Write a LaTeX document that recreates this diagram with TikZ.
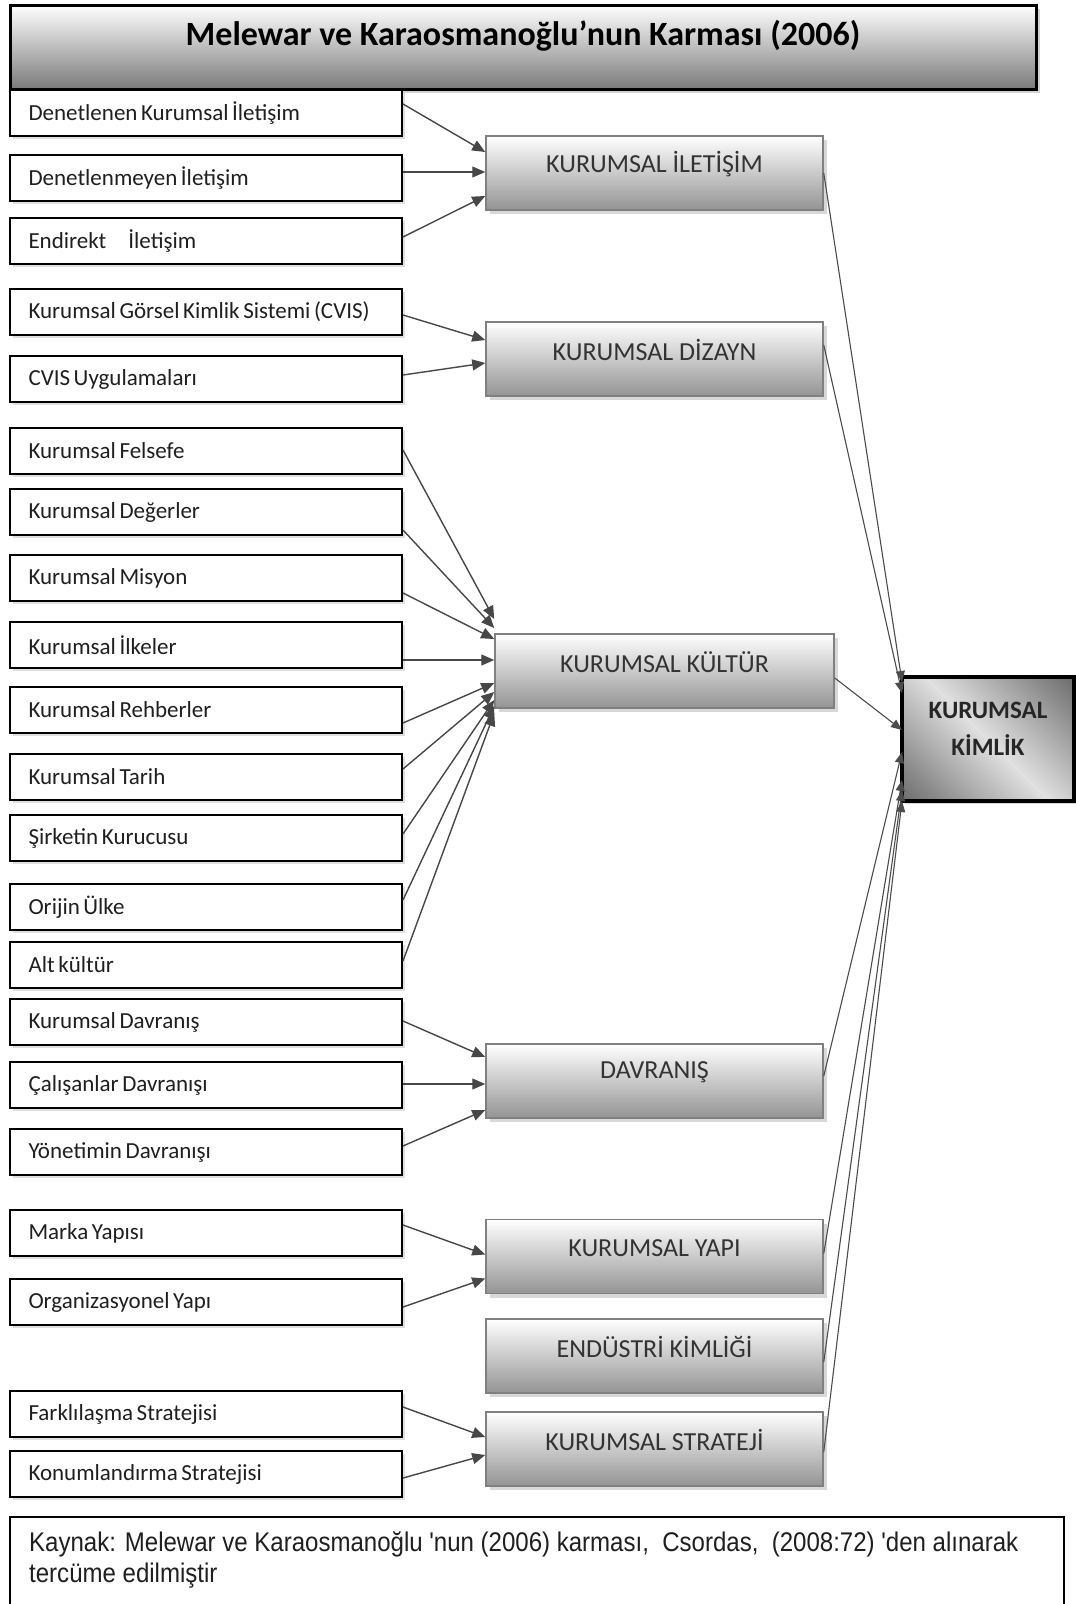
\documentclass[tikz,border=0pt]{standalone}
\usepackage{fontspec}
\setmainfont{Carlito}
\newfontfamily\notefont[FakeStretch=0.89]{Liberation Sans}
\usetikzlibrary{arrows.meta,shadows}
\newcommand\tightspaces{\spaceskip 3.6pt plus 1pt minus 0.5pt\relax}

\tikzset{
  itembox/.style={draw=black, line width=2pt, fill=white,
    minimum width=392pt, minimum height=46pt, inner xsep=18.5pt, inner ysep=0pt,
    text width=355pt, align=flush left,
    font=\fontsize{23}{26}\selectfont\tightspaces,
    text=black!88,
    drop shadow={shadow xshift=3pt, shadow yshift=-3pt, opacity=0.25}},
  groupbox/.style={draw=black!50, line width=1.5pt,
    top color=white, middle color=black!12, bottom color=black!42,
    minimum width=337pt, minimum height=74pt, inner sep=0pt,
    drop shadow={shadow xshift=4pt, shadow yshift=-4pt, opacity=0.3}},
  grouptext/.style={font=\fontsize{26}{30}\selectfont, text=black!80, inner sep=0pt},
  feedline/.style={draw=black!72, line width=1.4pt,
    -{Triangle[length=13pt, width=11pt]}},
  linkline/.style={draw=black!70, line width=1.1pt,
    -{Triangle[length=11pt, width=9pt]}},
}

\begin{document}
\begin{tikzpicture}[x=1pt, y=-1pt]
\useasboundingbox (0,0) rectangle (1076,1604);
\fill[white] (0,0) rectangle (1076,1604);

% heading
\node[draw=black, line width=3pt, minimum width=1026pt, minimum height=84pt,
  top color=white, middle color=black!18, bottom color=black!52, inner sep=0pt,
  drop shadow={shadow xshift=4pt, shadow yshift=-4pt, opacity=0.35}]
  (title) at (523,47) {};
\node[font=\bfseries\fontsize{34}{38}\selectfont, inner sep=0pt]
  (titletext) at (523,36) {Melewar ve Karaosmanoğlu’nun Karması (2006)};

% elements of the mix
\node[itembox] (a1)  at (206,113)  {Denetlenen Kurumsal İletişim};
\node[itembox] (a2)  at (206,178)  {Denetlenmeyen İletişim};
\node[itembox] (a3)  at (206,241)  {Endirekt\hspace{22pt}İletişim};
\node[itembox] (b1)  at (206,312)  {Kurumsal Görsel Kimlik Sistemi (CVIS)};
\node[itembox] (b2)  at (206,379)  {CVIS Uygulamaları};
\node[itembox] (c1)  at (206,451)  {Kurumsal Felsefe};
\node[itembox] (c2)  at (206,512)  {Kurumsal Değerler};
\node[itembox] (c3)  at (206,578)  {Kurumsal Misyon};
\node[itembox] (c4)  at (206,645)  {Kurumsal İlkeler};
\node[itembox] (c5)  at (206,710)  {Kurumsal Rehberler};
\node[itembox] (c6)  at (206,777)  {Kurumsal Tarih};
\node[itembox] (c7)  at (206,838)  {Şirketin Kurucusu};
\node[itembox] (c8)  at (206,907)  {Orijin Ülke};
\node[itembox] (c9)  at (206,965)  {Alt kültür};
\node[itembox] (d1)  at (206,1022) {Kurumsal Davranış};
\node[itembox] (d2)  at (206,1085) {Çalışanlar Davranışı};
\node[itembox] (d3)  at (206,1152) {Yönetimin Davranışı};
\node[itembox] (e1)  at (206,1233) {Marka Yapısı};
\node[itembox] (e2)  at (206,1302) {Organizasyonel Yapı};
\node[itembox] (g1)  at (206,1414) {Farklılaşma Stratejisi};
\node[itembox] (g2)  at (206,1474) {Konumlandırma Stratejisi};

% groups
\node[groupbox] (m1) at (654.5,173)  {};
\node[groupbox] (m2) at (654.5,359)  {};
\node[groupbox, minimum width=339pt] (m3) at (664.5,671) {};
\node[groupbox] (m4) at (654.5,1081) {};
\node[groupbox] (m5) at (654.5,1256.5) {};
\node[groupbox] (m6) at (654.5,1356) {};
\node[groupbox] (m7) at (654.5,1449) {};
\node[grouptext] (m1t) at ([yshift=-29pt]m1.north) {KURUMSAL İLETİŞİM};
\node[grouptext] (m2t) at ([yshift=-29pt]m2.north) {KURUMSAL DİZAYN};
\node[grouptext] (m3t) at ([yshift=-29pt]m3.north) {KURUMSAL KÜLTÜR};
\node[grouptext] (m4t) at ([yshift=-29pt]m4.north) {DAVRANIŞ};
\node[grouptext] (m5t) at ([yshift=-29pt]m5.north) {KURUMSAL YAPI};
\node[grouptext] (m6t) at ([yshift=-29pt]m6.north) {ENDÜSTRİ KİMLİĞİ};
\node[grouptext] (m7t) at ([yshift=-29pt]m7.north) {KURUMSAL STRATEJİ};

% corporate identity: box, diagonal gradient built from bands, frame, text
\node[fill=white, minimum width=172pt, minimum height=124pt, inner sep=0pt,
  outer sep=0pt, drop shadow={shadow xshift=3pt, shadow yshift=-3pt, opacity=0.3}]
  (rk) at (988,739) {};
\begin{scope}
  \clip (rk.north west) rectangle (rk.south east);
  \foreach \i in {-30,...,30} {
    \pgfmathsetmacro\bandtone{12+46*abs(\i)/30}
    \draw[line width=4pt, black!\bandtone]
      ([xshift=\i*2.475pt, yshift=\i*2.475pt]rk.center) ++(-110,-110) -- ++(220,220);
  }
\end{scope}
\draw[line width=4pt] (rk.north west) rectangle (rk.south east);
\node[font=\bfseries\fontsize{25}{37}\selectfont, text=black!85, align=center,
  inner sep=0pt] (rkt) at (988,729) {KURUMSAL\\KİMLİK};

% source note
\begin{scope}
  \clip (0,0) rectangle (1076,1604);
  \draw[line width=1.6pt] (10,1640) -- (10,1517) -- (1064,1517) -- (1064,1640);
\end{scope}
\node[anchor=north west, align=flush left, inner sep=0pt,
  font=\notefont\fontsize{27}{31}\selectfont, text=black!88] (note) at (29,1531)
  {Kaynak: Melewar ve Karaosmanoğlu 'nun (2006) karması,\ \ Csordas,\ \ (2008:72) 'den alınarak\\
   tercüme edilmiştir};

% element -> group arrows
\draw[feedline] ([yshift=9pt]a1.east)  -- ([yshift=21pt]m1.west);
\draw[feedline] ([yshift=6pt]a2.east)  -- ([yshift=1pt]m1.west);
\draw[feedline] ([yshift=4pt]a3.east)  -- ([yshift=-23pt]m1.west);
\draw[feedline] ([yshift=-3pt]b1.east) -- ([yshift=19pt]m2.west);
\draw[feedline] ([yshift=4pt]b2.east)  -- ([yshift=-4pt]m2.west);

\draw[feedline] ([yshift=1pt]c1.east)   -- ([yshift=52pt]m3.west);
\draw[feedline] ([yshift=-18pt]c2.east) -- ([yshift=43pt]m3.west);
\draw[feedline] ([yshift=-15pt]c3.east) -- ([yshift=32pt]m3.west);
\draw[feedline] ([yshift=-15pt]c4.east) -- ([yshift=11pt]m3.west);
\draw[feedline] ([yshift=-13pt]c5.east) -- ([yshift=-12pt]m3.west);
\draw[feedline] ([yshift=8pt]c6.east)   -- ([yshift=-21pt]m3.west);
\draw[feedline] ([yshift=4pt]c7.east)   -- ([yshift=-29pt]m3.west);
\draw[feedline] ([yshift=7pt]c8.east)   -- ([yshift=-35pt]m3.west);
\draw[feedline] ([yshift=4pt]c9.east)   -- ([yshift=-42pt]m3.west);

\draw[feedline] ([yshift=1pt]d1.east)  -- ([yshift=24pt]m4.west);
\draw[feedline] ([yshift=1pt]d2.east)  -- ([yshift=-3pt]m4.west);
\draw[feedline] ([yshift=6pt]d3.east)  -- ([yshift=-29pt]m4.west);

\draw[feedline] ([yshift=8pt]e1.east)  -- ([yshift=2pt]m5.west);
\draw[feedline] ([yshift=-5pt]e2.east) -- ([yshift=-22pt]m5.west);

\draw[feedline] ([yshift=7pt]g1.east)  -- ([yshift=12pt]m7.west);
\draw[feedline] ([yshift=-4pt]g2.east) -- ([yshift=-6pt]m7.west);

% group -> identity arrows
\draw[linkline] ([yshift=0pt]m1.east)   -- ([yshift=57pt]rk.west);
\draw[linkline] ([yshift=14pt]m2.east)  -- ([yshift=46pt]rk.west);
\draw[linkline] ([yshift=-7pt]m3.east)  -- ([yshift=9pt]rk.west);
\draw[linkline] ([yshift=5pt]m4.east)   -- ([yshift=-13pt]rk.west);
\draw[linkline] ([yshift=3pt]m5.east)   -- ([yshift=-41pt]rk.west);
\draw[linkline] ([yshift=-6pt]m6.east)  -- ([yshift=-51pt]rk.west);
\draw[linkline] ([yshift=-3pt]m7.east)  -- ([yshift=-62pt]rk.west);
\end{tikzpicture}
\end{document}
